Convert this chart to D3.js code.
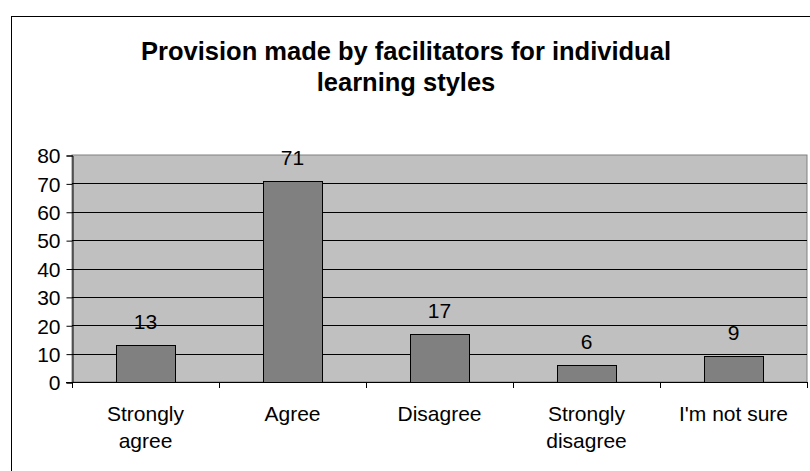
<!DOCTYPE html>
<html><head><meta charset="utf-8">
<script src="https://cdn.jsdelivr.net/npm/d3@7"></script>
<style>
html,body{margin:0;padding:0;background:#fff;}
svg text{font-family:"Liberation Sans",Arial,sans-serif;fill:#000;}
</style></head>
<body><svg id="c" width="810" height="471"></svg>
<script>
const titleLines = ["Provision made by facilitators for individual", "learning styles"];
const categories = ["Strongly agree", "Agree", "Disagree", "Strongly disagree", "I'm not sure"];
const categoryLines = [["Strongly","agree"],["Agree"],["Disagree"],["Strongly","disagree"],["I'm not sure"]];
const values = [13, 71, 17, 6, 9];
const yTicks = [0,10,20,30,40,50,60,70,80];

const svg = d3.select("#c");
const L = 72, R = 807, T = 155, B = 382;
const FS = 21;

// outer chart border
svg.append("rect").attr("x",11.5).attr("y",16.5).attr("width",810).attr("height",470)
  .attr("fill","#fff").attr("stroke","#000").attr("stroke-width",1);

// title
svg.append("g").selectAll("text").data(titleLines).join("text")
  .attr("x",406).attr("y",(d,i)=>60+i*31).attr("text-anchor","middle")
  .attr("font-size",25.5).attr("font-weight","bold").text(d=>d);

const x = d3.scaleBand().domain(categories).range([L,R]).paddingInner(0.6).paddingOuter(0.3);
const xb = d3.scaleBand().domain(categories).range([L,R]);
const y = d3.scaleLinear().domain([0,80]).range([B,T]);

// plot area
svg.append("rect").attr("x",L).attr("y",T).attr("width",R-L).attr("height",B-T)
  .attr("fill","#c0c0c0").attr("stroke","#808080").attr("stroke-width",1);

// gridlines
svg.append("g").selectAll("line").data(yTicks.filter(t=>t>0 && t<80)).join("line")
  .attr("x1",L).attr("x2",R).attr("y1",d=>Math.round(y(d))+0.5).attr("y2",d=>Math.round(y(d))+0.5)
  .attr("stroke","#000").attr("stroke-width",1);

// bars
svg.append("g").selectAll("rect").data(values).join("rect")
  .attr("x",(d,i)=>Math.round(x(categories[i]))+0.5)
  .attr("y",d=>Math.round(y(d))+0.5)
  .attr("width",Math.round(x.bandwidth()))
  .attr("height",d=>Math.round(B)-Math.round(y(d)))
  .attr("fill","#808080").attr("stroke","#000").attr("stroke-width",1);

// value labels
svg.append("g").selectAll("text").data(values).join("text")
  .attr("x",(d,i)=>x(categories[i])+x.bandwidth()/2)
  .attr("y",d=>y(d)-16).attr("text-anchor","middle").attr("font-size",FS).text(d=>d);

// y axis
const yAxis = d3.axisLeft(y).tickValues(yTicks).tickSize(6).tickPadding(6);
const gy = svg.append("g").attr("transform",`translate(${L+0.5},0.5)`).call(yAxis);
gy.select(".domain").attr("stroke","#000");
gy.selectAll(".tick line").attr("stroke","#000");
gy.selectAll(".tick text").attr("font-size",FS).attr("font-family",null).attr("fill","#000").attr("dy","0.35em");

// x axis
svg.append("line").attr("x1",L-6).attr("x2",R).attr("y1",B+0.5).attr("y2",B+0.5).attr("stroke","#000");
const edges = categories.map(c=>xb(c)).concat([R]);
svg.append("g").selectAll("line").data(edges).join("line")
  .attr("x1",d=>Math.round(d)+0.5).attr("x2",d=>Math.round(d)+0.5)
  .attr("y1",B).attr("y2",B+6).attr("stroke","#000");

// category labels
const cg = svg.append("g").selectAll("text").data(categoryLines).join("text")
  .attr("text-anchor","middle").attr("font-size",FS);
cg.each(function(lines,i){
  const cx = xb(categories[i]) + xb.bandwidth()/2;
  d3.select(this).selectAll("tspan").data(lines).join("tspan")
    .attr("x",cx).attr("y",(d,j)=>421+j*27).text(d=>d);
});
</script></body></html>
